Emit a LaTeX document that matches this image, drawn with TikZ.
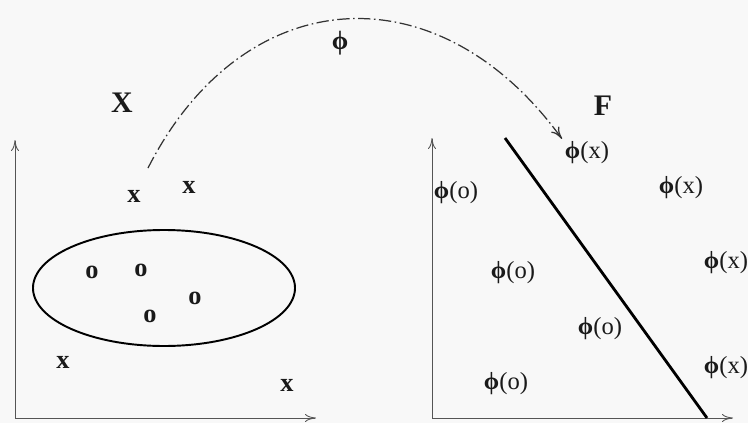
\documentclass[tikz,border=0pt]{standalone}
\usepackage{fontspec}
\setmainfont{Liberation Serif}
\usepackage{xcolor}
\usetikzlibrary{arrows.meta}
\definecolor{paperfill}{HTML}{F8F8F8}
\definecolor{axisgray}{HTML}{555555}
\definecolor{inkdark}{HTML}{1A1A1A}
\newcommand{\mapsym}{{\bfseries ϕ}}

\begin{document}
\begin{tikzpicture}[
  x=0.02cm,
  y=-0.02cm,
  font=\fontsize{14}{16}\selectfont,
  axis/.style={-{To[length=2.2mm,width=1.6mm]}, draw=axisgray, line width=0.5pt},
  sample/.style={inner sep=1pt, text=inkdark, font=\fontsize{15}{17}\selectfont\bfseries},
  spacelabel/.style={inner sep=1pt, text=inkdark, font=\fontsize{17}{19}\selectfont\bfseries},
  image/.style={inner sep=1.5pt, text=inkdark},
  mapflow/.style={-{To[length=2.4mm,width=2mm]}, draw=black!80, line width=0.7pt,
    dash pattern=on 7pt off 2pt on 0.9pt off 2pt},
  boundary/.style={draw=black, line width=1.6pt}
]
\fill[paperfill] (0,0) rectangle (748,423);
\useasboundingbox (0,0) rectangle (748,423);

% input space
\coordinate (lorigin) at (15,418);
\coordinate (ltop) at (15,140);
\coordinate (lright) at (316,418);
\draw[axis] (lorigin) -- (ltop);
\draw[axis] (lorigin) -- (lright);

\node[spacelabel] (inspace) at (122,103) {X};
\draw[black, line width=1.1pt] (164,288) ellipse [x radius=131, y radius=58];

\node[sample] (oa) at (92,272) {o};
\node[sample] (ob) at (141,270) {o};
\node[sample] (oc) at (150,316) {o};
\node[sample] (od) at (195,298) {o};

\node[sample] (xa) at (134,196) {x};
\node[sample] (xb) at (189,187) {x};
\node[sample] (xc) at (63,362) {x};
\node[sample] (xd) at (287,385) {x};

% feature space
\coordinate (rorigin) at (432,418);
\coordinate (rtop) at (432,138);
\coordinate (rright) at (733,418);
\draw[axis] (rorigin) -- (rtop);
\draw[axis] (rorigin) -- (rright);

\node[spacelabel] (feature) at (603,106) {F};

\node[image] (phixa) at (587,153) {\mapsym(x)};
\node[image] (phixb) at (681,188) {\mapsym(x)};
\node[image] (phixc) at (726,263) {\mapsym(x)};
\node[image] (phixd) at (726,368) {\mapsym(x)};

\node[image] (phioa) at (456,193) {\mapsym(o)};
\node[image] (phiob) at (513,273) {\mapsym(o)};
\node[image] (phioc) at (600,329) {\mapsym(o)};
\node[image] (phiod) at (506,384) {\mapsym(o)};

\coordinate (septop) at (505,138);
\coordinate (sepbot) at (707,418);
\draw[boundary] (septop) -- (sepbot);

% the map
\coordinate (mapstart) at (148,168);
\draw[mapflow] (mapstart) to[out=63, in=126, looseness=1.3] (phixa.north west);
\node[image, font=\fontsize{15}{17}\selectfont\bfseries] (phimap) at (340,43) {ϕ};

\end{tikzpicture}
\end{document}
